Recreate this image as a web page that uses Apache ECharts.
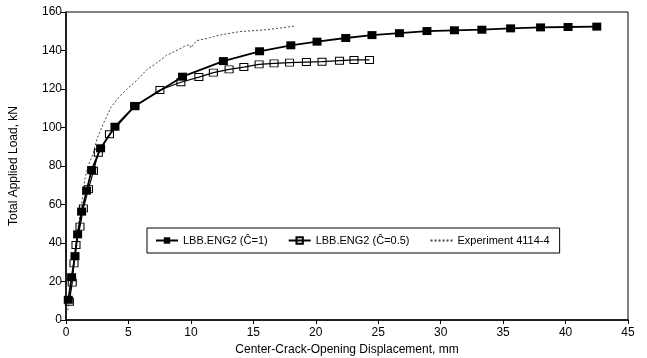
<!DOCTYPE html>
<html>
<head>
<meta charset="utf-8">
<script src="https://cdn.jsdelivr.net/npm/echarts@6/dist/echarts.min.js"></script>
<style>
  html, body { margin: 0; padding: 0; background: #fff; }
  #chart { width: 647px; height: 358px; }
</style>
</head>
<body>
<div id="chart"></div>
<script>
// Datos (desplazamiento mm, carga kN)
const c1X = [0.18, 0.45, 0.72, 0.93, 1.25, 1.65, 2.05, 2.77, 3.92, 5.52, 9.33, 12.6, 15.5, 18.0, 20.1, 22.4, 24.5, 26.7, 28.9, 31.1, 33.3, 35.6, 38.0, 40.2, 42.5];
const c1Y = [10.5, 22.2, 33.2, 44.5, 56.3, 67.2, 77.9, 89.2, 100.4, 111.2, 126.4, 134.5, 139.6, 142.7, 144.6, 146.5, 148.0, 149.0, 150.1, 150.5, 150.8, 151.5, 152.0, 152.2, 152.4];

const c05X = [0.27, 0.5, 0.64, 0.8, 1.12, 1.39, 1.8, 2.2, 2.59, 3.48, 5.5, 7.52, 9.2, 10.64, 11.8, 13.06, 14.24, 15.46, 16.66, 17.9, 19.25, 20.5, 21.9, 23.06, 24.3];
const c05Y = [9.5, 19.4, 29.4, 39.0, 48.5, 58.0, 68.0, 77.5, 86.9, 96.5, 111.0, 119.5, 123.5, 126.2, 128.5, 130.2, 131.4, 132.8, 133.3, 133.7, 134.0, 134.2, 134.7, 135.1, 135.1];

const expX = [0.15, 0.35, 0.6, 0.9, 1.2, 1.52, 1.8, 2.19, 2.45, 2.99, 3.6, 4.2, 4.85, 5.5, 6.45, 7.25, 8.05, 9.0, 9.6, 9.9, 10.0, 10.15, 10.45, 11.5, 12.3, 13.9, 16.05, 17.3, 18.3];
const expY = [5, 15, 30, 45, 58, 73.6, 80.5, 86.6, 93.5, 102, 110.4, 115.5, 119.8, 123.5, 129.9, 133.5, 137.5, 140.5, 142.6, 143, 141.4, 142.2, 145.1, 146.6, 148, 149.8, 150.8, 151.8, 152.7];

const seriesNames = ['LBB.ENG2 (Ĉ=1)', 'LBB.ENG2 (Ĉ=0.5)', 'Experiment 4114-4'];

function pairs(xs, ys) {
    return xs.map((x, i) => [x, ys[i]]);
}

const chart = echarts.init(document.getElementById('chart'));
const font = 'Liberation Sans, Arial, sans-serif';

chart.setOption({
    animation: false,
    textStyle: { fontFamily: font, color: '#000' },
    grid: {
        left: 66, right: 19, top: 12, bottom: 38,
        outerBoundsMode: 'none',
        show: true, borderColor: '#000', borderWidth: 1
    },
    legend: {
        data: [
            seriesNames[0],
            seriesNames[1],
            { name: seriesNames[2], itemStyle: { opacity: 0 } }
        ],
        left: 147, top: 228,
        width: 440,
        padding: [7, 10, 7, 8],
        itemGap: 20,
        itemWidth: 22, itemHeight: 8,
        borderColor: '#000', borderWidth: 1,
        textStyle: { fontFamily: font, fontSize: 11, color: '#000' }
    },
    xAxis: {
        type: 'value',
        min: 0, max: 45, interval: 5,
        name: 'Center-Crack-Opening Displacement, mm',
        nameLocation: 'middle',
        nameGap: 17,
        nameTextStyle: { fontFamily: font, fontSize: 12, color: '#000' },
        axisLine: { lineStyle: { color: '#000', width: 1.5 } },
        axisTick: { show: true, length: 4, lineStyle: { color: '#000' } },
        axisLabel: { fontFamily: font, fontSize: 12, color: '#000', margin: 7 },
        splitLine: { show: false }
    },
    yAxis: {
        type: 'value',
        min: 0, max: 160, interval: 20,
        name: 'Total Applied Load, kN',
        nameLocation: 'middle',
        nameGap: 46,
        nameTextStyle: { fontFamily: font, fontSize: 12, color: '#000' },
        axisLine: { show: true, lineStyle: { color: '#000', width: 1.5 } },
        axisTick: { show: true, length: 5, lineStyle: { color: '#000' } },
        axisLabel: { fontFamily: font, fontSize: 12, color: '#000', margin: 4 },
        splitLine: { show: false }
    },
    series: [
        {
            name: seriesNames[2],
            type: 'line',
            data: pairs(expX, expY),
            symbol: 'none',
            lineStyle: { color: '#444', width: 1, type: [2, 2] },
            itemStyle: { color: '#444' },
            z: 1
        },
        {
            name: seriesNames[1],
            type: 'line',
            data: pairs(c05X, c05Y),
            symbol: 'rect',
            symbolSize: [8, 7],
            lineStyle: { color: '#000', width: 1.2 },
            itemStyle: { color: 'rgba(255,255,255,0)', borderColor: '#000', borderWidth: 1 },
            z: 2
        },
        {
            name: seriesNames[0],
            type: 'line',
            data: pairs(c1X, c1Y),
            symbol: 'rect',
            symbolSize: [9, 8],
            lineStyle: { color: '#000', width: 1.8 },
            itemStyle: { color: '#000' },
            z: 3
        }
    ]
});
</script>
</body>
</html>
